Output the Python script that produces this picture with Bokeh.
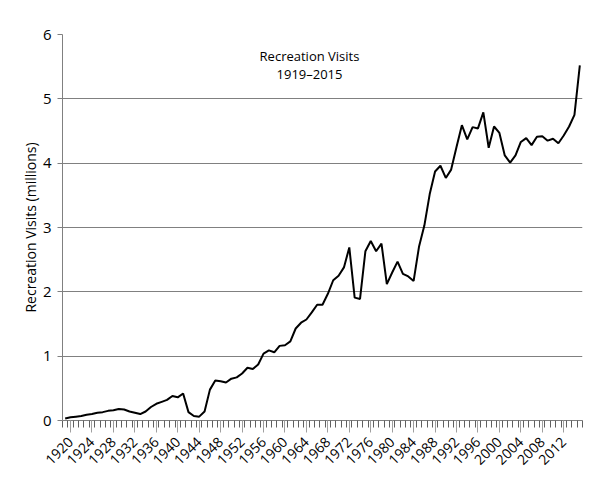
from bokeh.plotting import figure
from bokeh.models import Range1d, FixedTicker, Label, ColumnDataSource
from bokeh.embed import file_html
from bokeh.resources import INLINE
import math

years = list(range(1919, 2016))
visits = [
    0.03, 0.05, 0.06, 0.07, 0.09, 0.10, 0.12, 0.13, 0.15, 0.16,   # 1919-1928
    0.18, 0.17, 0.14, 0.12, 0.10, 0.14, 0.21, 0.26, 0.29, 0.32,   # 1929-1938
    0.38, 0.36, 0.42, 0.13, 0.07, 0.06, 0.14, 0.48, 0.62, 0.61,   # 1939-1948
    0.59, 0.65, 0.67, 0.73, 0.82, 0.80, 0.87, 1.04, 1.09, 1.06,   # 1949-1958
    1.16, 1.17, 1.23, 1.43, 1.52, 1.57, 1.68, 1.80, 1.80, 1.97,   # 1959-1968
    2.18, 2.25, 2.38, 2.69, 1.91, 1.89, 2.63, 2.79, 2.63, 2.75,   # 1969-1978
    2.12, 2.30, 2.47, 2.28, 2.24, 2.17, 2.70, 3.03, 3.52, 3.87,   # 1979-1988
    3.96, 3.77, 3.90, 4.25, 4.59, 4.37, 4.56, 4.54, 4.79, 4.24,   # 1989-1998
    4.57, 4.47, 4.12, 4.01, 4.12, 4.33, 4.39, 4.28, 4.41, 4.42,   # 1999-2008
    4.35, 4.38, 4.31, 4.43, 4.57, 4.75, 5.52,                     # 2009-2015
]
label_years = list(range(1920, 2013, 4))
y_ticks = [0, 1, 2, 3, 4, 5, 6]
title_lines = ["Recreation Visits", "1919\u20132015"]
y_title = "Recreation Visits (millions)"

FONT = "Open Sans"

p = figure(width=592, height=472, output_backend="svg", toolbar_location=None,
           x_range=Range1d(years[0] - 0.5, years[-1] + 0.5),
           y_range=Range1d(0, 6),
           min_border_left=62, min_border_right=10, min_border_top=34, min_border_bottom=52)
p.outline_line_color = None
p.background_fill_color = "white"

src = ColumnDataSource(dict(x=years, y=visits))
p.line("x", "y", source=src, line_color="black", line_width=2)

# x axis
p.xaxis.ticker = FixedTicker(ticks=label_years,
                             minor_ticks=[y - 0.5 for y in years] + [years[-1] + 0.5])
p.xaxis.major_label_orientation = math.pi / 4
p.xaxis.major_label_text_font = FONT
p.xaxis.major_label_text_font_size = "14px"
p.xaxis.major_label_text_color = "black"
p.xaxis.axis_line_color = "#808080"
p.xaxis.major_tick_line_color = "#a0a0a0"
p.xaxis.major_tick_out = 12
p.xaxis.major_tick_in = 0
p.xaxis.minor_tick_line_color = "#606060"
p.xaxis.minor_tick_out = 7
p.xaxis.minor_tick_in = 0
p.xaxis.major_label_standoff = 7
p.xgrid.grid_line_color = None

# y axis
p.yaxis.ticker = FixedTicker(ticks=y_ticks)
p.yaxis.axis_label = y_title
p.yaxis.axis_label_text_font = FONT
p.yaxis.axis_label_text_font_size = "14px"
p.yaxis.axis_label_text_font_style = "normal"
p.yaxis.axis_label_text_color = "black"
p.yaxis.axis_label_standoff = 0
p.yaxis.major_label_text_font = FONT
p.yaxis.major_label_text_font_size = "15px"
p.yaxis.major_label_text_color = "black"
p.yaxis.axis_line_color = "#808080"
p.yaxis.major_tick_line_color = "#808080"
p.yaxis.major_tick_out = 5
p.yaxis.major_tick_in = 0
p.yaxis.minor_tick_line_color = None
p.yaxis.major_label_standoff = 6
p.ygrid.grid_line_color = "#808080"
p.ygrid.grid_line_width = 1

# in-plot title
p.add_layout(Label(x=247, y=365, x_units="screen", y_units="screen",
                   text=title_lines[0], text_align="center", text_baseline="middle",
                   text_font=FONT, text_font_size="13px", text_color="black"))
p.add_layout(Label(x=247, y=347, x_units="screen", y_units="screen",
                   text=title_lines[1], text_align="center", text_baseline="middle",
                   text_font=FONT, text_font_size="13px", text_color="black"))

open("out.html", "w").write(file_html(p, INLINE))
